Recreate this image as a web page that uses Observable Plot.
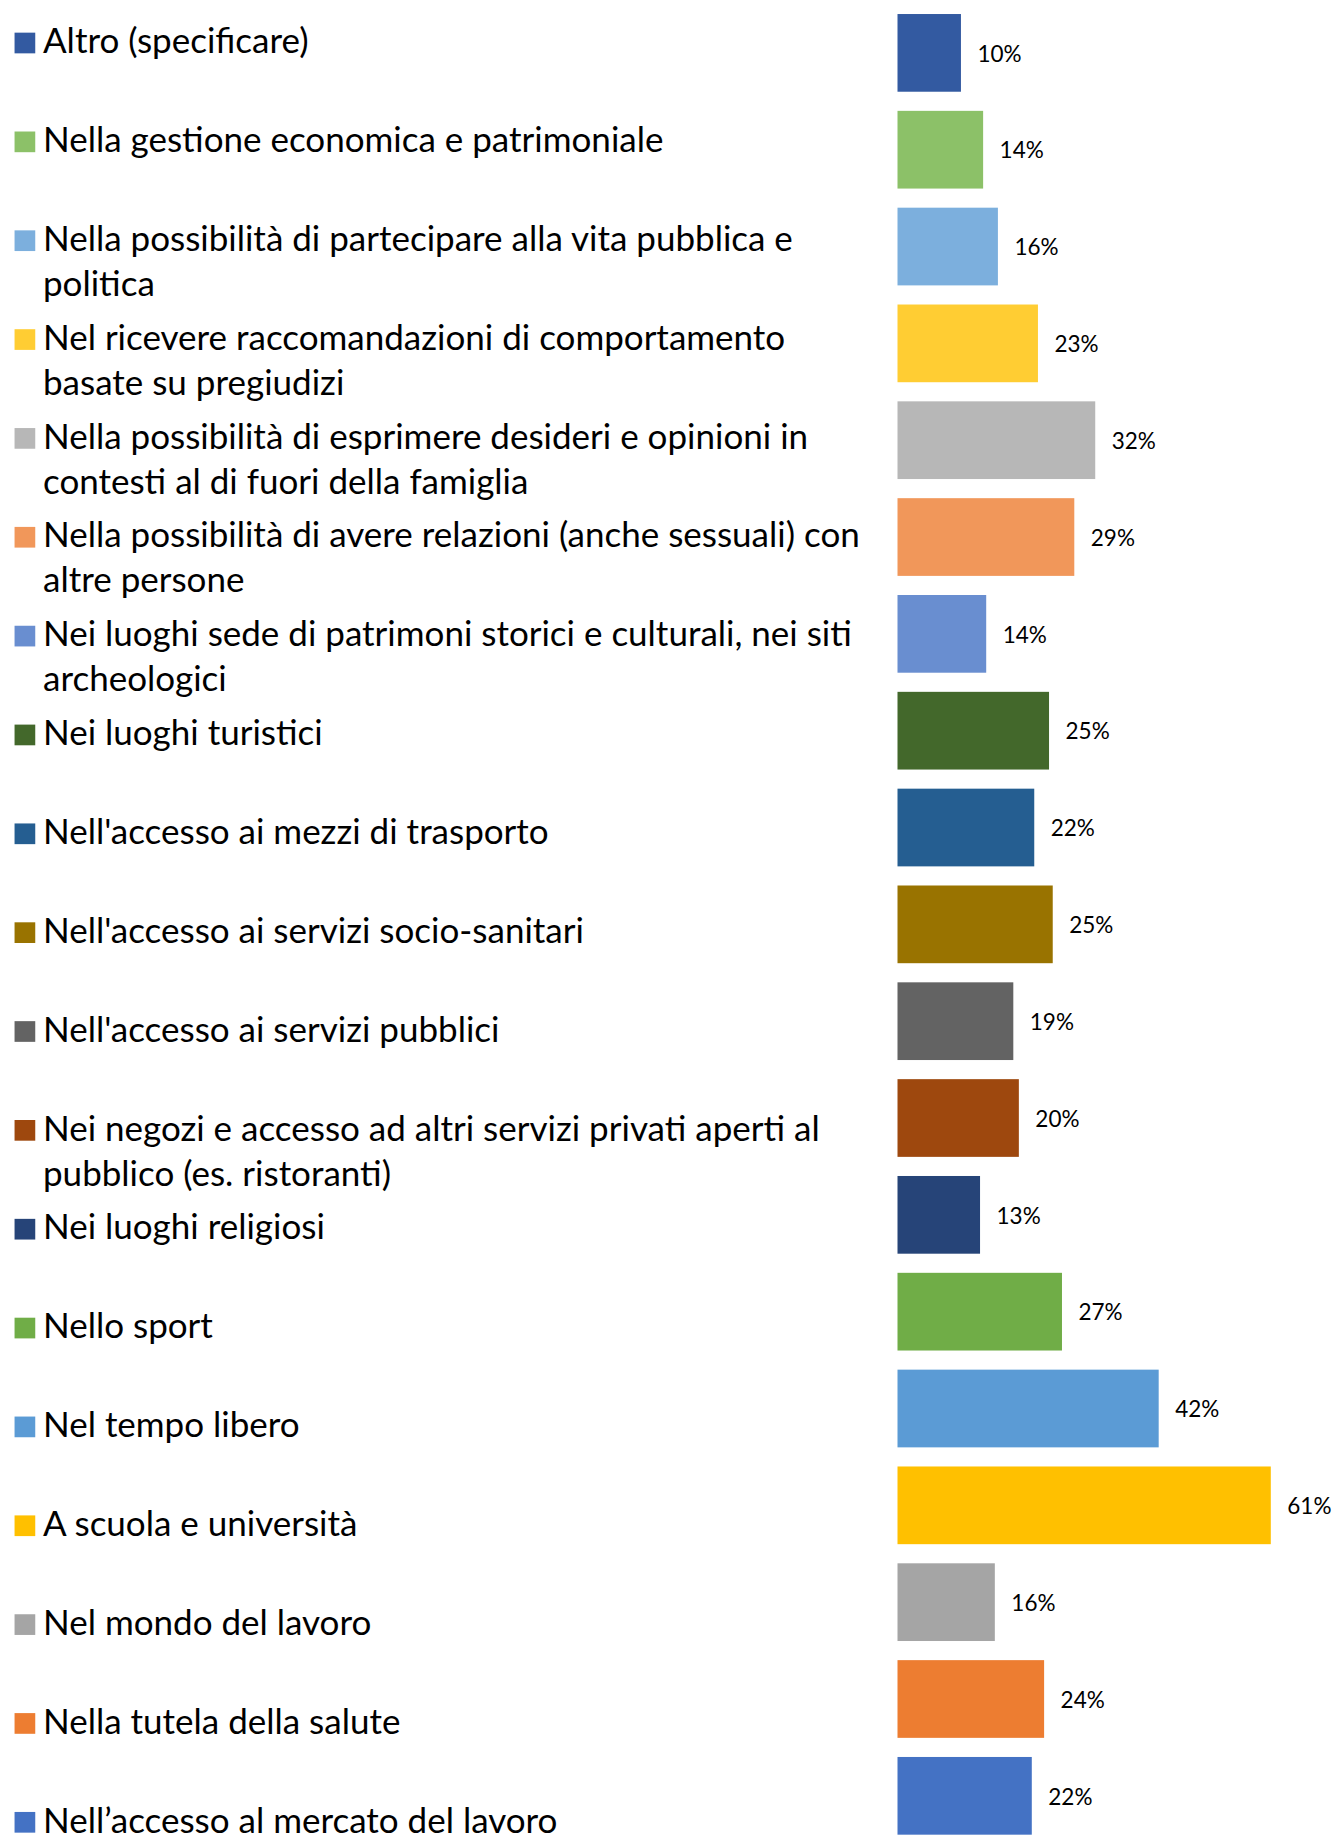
<!DOCTYPE html>
<html>
<head>
<meta charset="utf-8">
<script src="https://cdn.jsdelivr.net/npm/d3@7"></script>
<script src="https://cdn.jsdelivr.net/npm/@observablehq/plot@0.6"></script>
<style>
  html, body { margin: 0; padding: 0; background: #ffffff; }
  #chart { position: relative; width: 1337px; height: 1836px; overflow: hidden; background: #ffffff; }
  #chart > svg { position: absolute; left: 0; top: 0; }
</style>
</head>
<body>
<div id="chart"></div>
<script>
// Categories, top to bottom as shown
const categories = [
  "Altro (specificare)",
  "Nella gestione economica e patrimoniale",
  "Nella possibilità di partecipare alla vita pubblica e politica",
  "Nel ricevere raccomandazioni di comportamento basate su pregiudizi",
  "Nella possibilità di esprimere desideri e opinioni in contesti al di fuori della famiglia",
  "Nella possibilità di avere relazioni (anche sessuali) con altre persone",
  "Nei luoghi sede di patrimoni storici e culturali, nei siti archeologici",
  "Nei luoghi turistici",
  "Nell'accesso ai mezzi di trasporto",
  "Nell'accesso ai servizi socio-sanitari",
  "Nell'accesso ai servizi pubblici",
  "Nei negozi e accesso ad altri servizi privati aperti al pubblico (es. ristoranti)",
  "Nei luoghi religiosi",
  "Nello sport",
  "Nel tempo libero",
  "A scuola e università",
  "Nel mondo del lavoro",
  "Nella tutela della salute",
  "Nell\u2019accesso al mercato del lavoro"
];

// Percent values (labels show them rounded)
const values = [10.3, 13.9, 16.3, 22.8, 32.1, 28.7, 14.4, 24.6, 22.2, 25.2, 18.8, 19.7, 13.4, 26.7, 42.4, 60.6, 15.8, 23.8, 21.8];

// Series colours (Office palette)
const colors = [
  "#335AA1", "#8CC168", "#7CAFDD", "#FFCD33", "#B7B7B7", "#F1975A", "#698ED0",
  "#43682B", "#255E91", "#997300", "#636363", "#9E480E", "#264478",
  "#70AD47", "#5B9BD5", "#FFC000", "#A5A5A5", "#ED7D31", "#4472C4"
];

const FONT = "Lato, 'Open Sans', sans-serif";
const LEGEND_FS = 35;
const LEGEND_LH = 45 / LEGEND_FS;
const WRAP_WIDTH = 830;

const data = categories.map((c, i) => ({category: c, value: values[i]}));

const ctx = document.createElement("canvas").getContext("2d");
ctx.font = `${LEGEND_FS}px Lato`;
function wrap(t) {
  const words = t.split(" ");
  const lines = [];
  let cur = "";
  for (const w of words) {
    const test = cur ? cur + " " + w : w;
    if (cur && ctx.measureText(test).width > WRAP_WIDTH) { lines.push(cur); cur = w; }
    else cur = test;
  }
  lines.push(cur);
  return lines.join("\n");
}

const bars = Plot.plot({
  width: 1337,
  height: 1836,
  margin: 0,
  style: {fontFamily: FONT, background: "transparent", overflow: "visible"},
  x: {domain: [0, 70], range: [897.5, 897.5 + 70 * 6.16], axis: null},
  y: {type: "band", domain: categories, range: [-5.1, 1853.8], padding: 0.1975, round: false, axis: null},
  color: {domain: categories, range: colors},
  marks: [
    Plot.barX(data, {x: "value", y: "category", fill: "category"}),
    Plot.text(data, {
      x: "value", y: "category",
      text: d => Math.round(d.value) + "%",
      textAnchor: "start", dx: 16, dy: 1,
      fontSize: 22.5, fill: "#000000"
    })
  ]
});

const legend = Plot.plot({
  width: 900,
  height: 1836,
  margin: 0,
  style: {fontFamily: FONT, background: "transparent", overflow: "visible"},
  y: {type: "point", domain: categories, range: [52.7, 52.7 + 18 * 98.85], padding: 0, round: false, axis: null},
  color: {domain: categories, range: colors},
  marks: [
    Plot.dot(data, {
      y: "category", frameAnchor: "left", dx: 24.4, dy: -10.2,
      symbol: "square", r: 11.68, fill: "category", stroke: null
    }),
    Plot.text(data, {
      y: "category", text: d => wrap(d.category),
      frameAnchor: "left", textAnchor: "start", lineAnchor: "top",
      dx: 42.5, dy: -0.71 * LEGEND_LH * LEGEND_FS,
      fontSize: LEGEND_FS, lineHeight: LEGEND_LH, fill: "#000000"
    })
  ]
});

const root = document.getElementById("chart");
root.appendChild(legend);
root.appendChild(bars);
</script>
</body>
</html>
